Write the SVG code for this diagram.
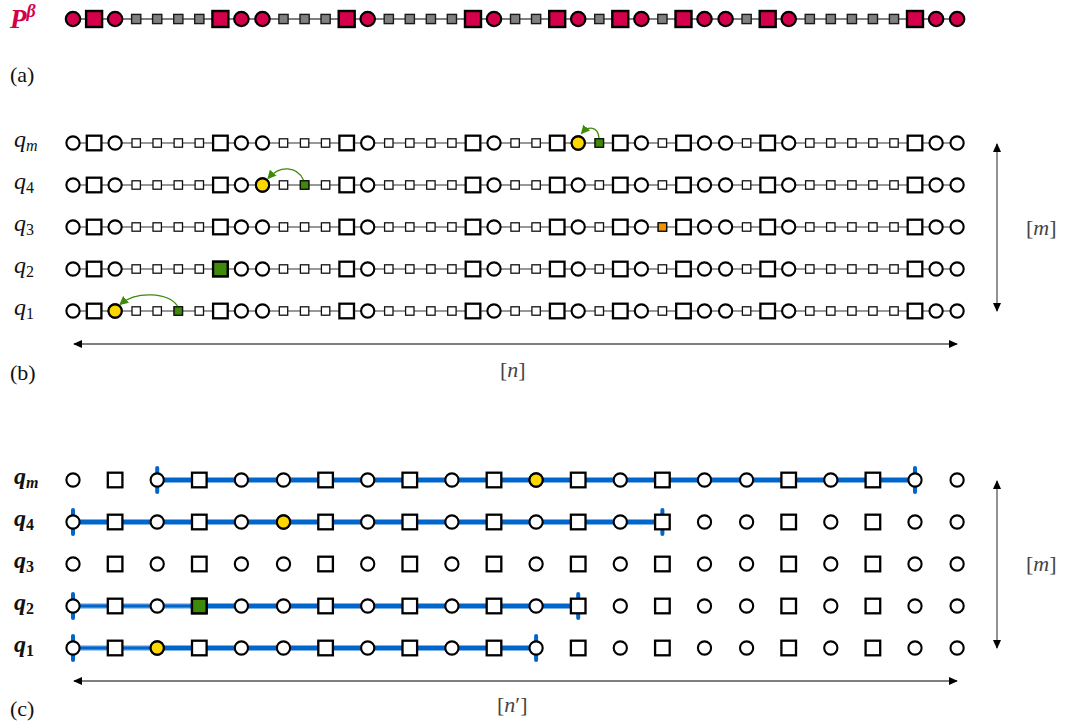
<svg xmlns="http://www.w3.org/2000/svg" xmlns:xlink="http://www.w3.org/1999/xlink" width="1070" height="722" viewBox="0 0 1070 722">
  <style>
    .lbl { font-family: "Liberation Serif", "DejaVu Serif", serif; fill: #111; }
    .qi { font-style: italic; font-size: 24px; }
    .qs { font-size: 16px; }
    .qb { font-weight: bold; }
    .dim { font-family: "Liberation Serif", "DejaVu Serif", serif; font-size: 22px; fill: #444; }
    .wire-a { stroke: #555; stroke-width: 1.6; }
    .wire-b { stroke: #333; stroke-width: 1.2; }
    .span { stroke: #0066cc; stroke-width: 5; fill: none; }
    .span-soft { stroke: #4f95e0; stroke-width: 5; fill: none; }
    .span-core { stroke: #0066cc; stroke-width: 2.4; fill: none; }
    .tick { stroke: #0066cc; stroke-width: 4; stroke-linecap: round; }
    .dimline { stroke: #555; stroke-width: 1.3; fill: none; }
    .hop { stroke: #3f8a0a; stroke-width: 1.3; fill: none; }
  </style>
  <defs>
    <!-- node shapes for row (a) -->
    <circle id="ac" r="7.2" fill="#d4004b" stroke="#000" stroke-width="2.2"/>
    <rect id="ab" x="-8" y="-8" width="16" height="16" fill="#d4004b" stroke="#000" stroke-width="2.4"/>
    <rect id="as" x="-4.6" y="-4.6" width="9.2" height="9.2" fill="#808080" stroke="#1a1a1a" stroke-width="1.4"/>
    <!-- node shapes for rows (b) and (c) -->
    <circle id="bc" r="6.6" fill="#fff" stroke="#000" stroke-width="2.1"/>
    <rect id="bb" x="-7.3" y="-7.3" width="14.6" height="14.6" fill="#fff" stroke="#000" stroke-width="2.3"/>
    <rect id="bs" x="-4.2" y="-4.2" width="8.4" height="8.4" fill="#fff" stroke="#111" stroke-width="1.3"/>
    <!-- highlighted variants -->
    <circle id="yc" r="6.6" fill="#ffd700" stroke="#000" stroke-width="2.1"/>
    <rect id="gb" x="-7.3" y="-7.3" width="14.6" height="14.6" fill="#3f8a0a" stroke="#000" stroke-width="2.3"/>
    <rect id="gs" x="-4.2" y="-4.2" width="8.4" height="8.4" fill="#3f8a0a" stroke="#111" stroke-width="1.3"/>
    <rect id="os" x="-4.2" y="-4.2" width="8.4" height="8.4" fill="#f39200" stroke="#111" stroke-width="1.3"/>

    <marker id="tip" viewBox="0 0 10 10" refX="9" refY="5" markerWidth="9" markerHeight="9" markerUnits="userSpaceOnUse" orient="auto-start-reverse">
      <path d="M0,0.5 L10,5 L0,9.5 Z" fill="#000"/>
    </marker>
    <marker id="hoptip" viewBox="0 0 10 10" refX="8" refY="5" markerWidth="9" markerHeight="9" markerUnits="userSpaceOnUse" orient="auto">
      <path d="M0,0 L10,5 L0,10 Z" fill="#3f8a0a"/>
    </marker>

    <!-- one full row of the chain (43 nodes), centred on y = 0 -->
    <g id="rowb">
      <line class="wire-b" x1="73" y1="0" x2="957.1" y2="0"/>
      <use href="#bc" x="73"/>
      <use href="#bb" x="94.1"/>
      <use href="#bc" x="115.1"/>
      <use href="#bs" x="136.2"/>
      <use href="#bs" x="157.2"/>
      <use href="#bs" x="178.3"/>
      <use href="#bs" x="199.3"/>
      <use href="#bb" x="220.4"/>
      <use href="#bc" x="241.4"/>
      <use href="#bc" x="262.5"/>
      <use href="#bs" x="283.5"/>
      <use href="#bs" x="304.6"/>
      <use href="#bs" x="325.6"/>
      <use href="#bb" x="346.7"/>
      <use href="#bc" x="367.7"/>
      <use href="#bs" x="388.8"/>
      <use href="#bs" x="409.8"/>
      <use href="#bs" x="430.9"/>
      <use href="#bs" x="451.9"/>
      <use href="#bb" x="473"/>
      <use href="#bc" x="494"/>
      <use href="#bs" x="515.1"/>
      <use href="#bs" x="536.1"/>
      <use href="#bb" x="557.2"/>
      <use href="#bc" x="578.2"/>
      <use href="#bs" x="599.3"/>
      <use href="#bb" x="620.3"/>
      <use href="#bc" x="641.4"/>
      <use href="#bs" x="662.4"/>
      <use href="#bb" x="683.5"/>
      <use href="#bc" x="704.5"/>
      <use href="#bc" x="725.6"/>
      <use href="#bs" x="746.6"/>
      <use href="#bb" x="767.7"/>
      <use href="#bc" x="788.7"/>
      <use href="#bs" x="809.8"/>
      <use href="#bs" x="830.8"/>
      <use href="#bs" x="851.9"/>
      <use href="#bs" x="872.9"/>
      <use href="#bs" x="894"/>
      <use href="#bb" x="915"/>
      <use href="#bc" x="936.1"/>
      <use href="#bc" x="957.1"/>
    </g>

    <!-- compressed row without the small nodes (22 nodes) -->
    <g id="rowc">
      <use href="#bc" x="73"/>
      <use href="#bb" x="115.1"/>
      <use href="#bc" x="157.2"/>
      <use href="#bb" x="199.3"/>
      <use href="#bc" x="241.4"/>
      <use href="#bc" x="283.5"/>
      <use href="#bb" x="325.6"/>
      <use href="#bc" x="367.7"/>
      <use href="#bb" x="409.8"/>
      <use href="#bc" x="451.9"/>
      <use href="#bb" x="494"/>
      <use href="#bc" x="536.1"/>
      <use href="#bb" x="578.2"/>
      <use href="#bc" x="620.3"/>
      <use href="#bb" x="662.4"/>
      <use href="#bc" x="704.5"/>
      <use href="#bc" x="746.6"/>
      <use href="#bb" x="788.7"/>
      <use href="#bc" x="830.8"/>
      <use href="#bb" x="872.9"/>
      <use href="#bc" x="915"/>
      <use href="#bc" x="957.1"/>
    </g>
  </defs>

  <rect width="1070" height="722" fill="#fff"/>

  <!-- (a) reference path -->
  <g id="label-a">
    <text x="10" y="28" font-family="Liberation Serif, DejaVu Serif, serif" font-size="27" font-style="italic" font-weight="bold" fill="#d4004b">P<tspan dy="-11" font-size="18">β</tspan></text>
    <text class="lbl" x="10" y="82" font-size="22">(a)</text>
  </g>
  <g id="row-a" transform="translate(0,19)">
    <line class="wire-a" x1="73" y1="0" x2="957.1" y2="0"/>
    <use href="#ac" x="73"/>
    <use href="#ab" x="94.1"/>
    <use href="#ac" x="115.1"/>
    <use href="#as" x="136.2"/>
    <use href="#as" x="157.2"/>
    <use href="#as" x="178.3"/>
    <use href="#as" x="199.3"/>
    <use href="#ab" x="220.4"/>
    <use href="#ac" x="241.4"/>
    <use href="#ac" x="262.5"/>
    <use href="#as" x="283.5"/>
    <use href="#as" x="304.6"/>
    <use href="#as" x="325.6"/>
    <use href="#ab" x="346.7"/>
    <use href="#ac" x="367.7"/>
    <use href="#as" x="388.8"/>
    <use href="#as" x="409.8"/>
    <use href="#as" x="430.9"/>
    <use href="#as" x="451.9"/>
    <use href="#ab" x="473"/>
    <use href="#ac" x="494"/>
    <use href="#as" x="515.1"/>
    <use href="#as" x="536.1"/>
    <use href="#ab" x="557.2"/>
    <use href="#ac" x="578.2"/>
    <use href="#as" x="599.3"/>
    <use href="#ab" x="620.3"/>
    <use href="#ac" x="641.4"/>
    <use href="#as" x="662.4"/>
    <use href="#ab" x="683.5"/>
    <use href="#ac" x="704.5"/>
    <use href="#ac" x="725.6"/>
    <use href="#as" x="746.6"/>
    <use href="#ab" x="767.7"/>
    <use href="#ac" x="788.7"/>
    <use href="#as" x="809.8"/>
    <use href="#as" x="830.8"/>
    <use href="#as" x="851.9"/>
    <use href="#as" x="872.9"/>
    <use href="#as" x="894"/>
    <use href="#ab" x="915"/>
    <use href="#ac" x="936.1"/>
    <use href="#ac" x="957.1"/>
  </g>

  <!-- (b) one chain per qubit -->
  <g id="labels-b">
    <text class="lbl qi" x="14" y="147">q<tspan class="qs" dy="4">m</tspan></text>
    <text class="lbl qi" x="14" y="189">q<tspan class="qs" dy="4" font-style="normal">4</tspan></text>
    <text class="lbl qi" x="14" y="231">q<tspan class="qs" dy="4" font-style="normal">3</tspan></text>
    <text class="lbl qi" x="14" y="273">q<tspan class="qs" dy="4" font-style="normal">2</tspan></text>
    <text class="lbl qi" x="14" y="315">q<tspan class="qs" dy="4" font-style="normal">1</tspan></text>
    <text class="lbl" x="10" y="380" font-size="22">(b)</text>
  </g>
  <g id="row-b-qm" transform="translate(0,143)">
    <use href="#rowb"/>
    <use href="#yc" x="578.2"/>
    <use href="#gs" x="599.3"/>
  </g>
  <g id="row-b-q4" transform="translate(0,185)">
    <use href="#rowb"/>
    <use href="#yc" x="262.5"/>
    <use href="#gs" x="304.6"/>
  </g>
  <g id="row-b-q3" transform="translate(0,227)">
    <use href="#rowb"/>
    <use href="#os" x="662.4"/>
  </g>
  <g id="row-b-q2" transform="translate(0,269)">
    <use href="#rowb"/>
    <use href="#gb" x="220.4"/>
  </g>
  <g id="row-b-q1" transform="translate(0,311)">
    <use href="#rowb"/>
    <use href="#yc" x="115.1"/>
    <use href="#gs" x="178.3"/>
  </g>

  <!-- hops from the green node back to the yellow one -->
  <g id="hops">
    <path class="hop" d="M599 138 C598 126 588 126 582 133" marker-end="url(#hoptip)"/>
    <path class="hop" d="M303.5 180 C297 166 280 165 268.5 178" marker-end="url(#hoptip)"/>
    <path class="hop" d="M177.5 306 C168 292 136 291 120.5 304" marker-end="url(#hoptip)"/>
  </g>

  <!-- (b) dimensions -->
  <g id="dims-b">
    <line class="dimline" x1="997" y1="144" x2="997" y2="311" marker-start="url(#tip)" marker-end="url(#tip)"/>
    <text class="dim" x="1026" y="235">[<tspan font-style="italic">m</tspan>]</text>
    <line class="dimline" x1="74" y1="344" x2="957" y2="344" marker-start="url(#tip)" marker-end="url(#tip)"/>
    <text class="dim" x="500" y="377">[<tspan font-style="italic">n</tspan>]</text>
  </g>

  <!-- (c) compressed chains with the selected spans -->
  <g id="labels-c">
    <text class="lbl qi qb" x="14" y="484">q<tspan class="qs" dy="4">m</tspan></text>
    <text class="lbl qi qb" x="14" y="526">q<tspan class="qs" dy="4" font-style="normal">4</tspan></text>
    <text class="lbl qi qb" x="14" y="568">q<tspan class="qs" dy="4" font-style="normal">3</tspan></text>
    <text class="lbl qi qb" x="14" y="610">q<tspan class="qs" dy="4" font-style="normal">2</tspan></text>
    <text class="lbl qi qb" x="14" y="652">q<tspan class="qs" dy="4" font-style="normal">1</tspan></text>
    <text class="lbl" x="10" y="716" font-size="22">(c)</text>
  </g>
  <g id="spans">
    <line class="span" x1="157.2" y1="480" x2="915" y2="480"/>
    <line class="tick" x1="157.2" y1="468" x2="157.2" y2="492"/>
    <line class="tick" x1="915" y1="468" x2="915" y2="492"/>

    <line class="span" x1="73" y1="522" x2="662.4" y2="522"/>
    <line class="tick" x1="73" y1="510" x2="73" y2="534"/>
    <line class="tick" x1="662.4" y1="510" x2="662.4" y2="534"/>

    <line class="span-soft" x1="73" y1="606" x2="190" y2="606"/>
    <line class="span-core" x1="73" y1="606" x2="190" y2="606"/>
    <line class="span" x1="190" y1="606" x2="578.2" y2="606"/>
    <line class="tick" x1="73" y1="594" x2="73" y2="618"/>
    <line class="tick" x1="578.2" y1="594" x2="578.2" y2="618"/>

    <line class="span-soft" x1="73" y1="648" x2="150" y2="648"/>
    <line class="span-core" x1="73" y1="648" x2="150" y2="648"/>
    <line class="span" x1="150" y1="648" x2="536.1" y2="648"/>
    <line class="tick" x1="73" y1="636" x2="73" y2="660"/>
    <line class="tick" x1="536.1" y1="636" x2="536.1" y2="660"/>
  </g>
  <g id="row-c-qm" transform="translate(0,480)">
    <use href="#rowc"/>
    <use href="#yc" x="536.1"/>
  </g>
  <g id="row-c-q4" transform="translate(0,522)">
    <use href="#rowc"/>
    <use href="#yc" x="283.5"/>
  </g>
  <g id="row-c-q3" transform="translate(0,564)">
    <use href="#rowc"/>
  </g>
  <g id="row-c-q2" transform="translate(0,606)">
    <use href="#rowc"/>
    <use href="#gb" x="199.3"/>
  </g>
  <g id="row-c-q1" transform="translate(0,648)">
    <use href="#rowc"/>
    <use href="#yc" x="157.2"/>
  </g>

  <!-- (c) dimensions -->
  <g id="dims-c">
    <line class="dimline" x1="997" y1="481" x2="997" y2="648" marker-start="url(#tip)" marker-end="url(#tip)"/>
    <text class="dim" x="1026" y="571">[<tspan font-style="italic">m</tspan>]</text>
    <line class="dimline" x1="74" y1="681" x2="957" y2="681" marker-start="url(#tip)" marker-end="url(#tip)"/>
    <text class="dim" x="497" y="712">[<tspan font-style="italic">n</tspan>′]</text>
  </g>
</svg>
